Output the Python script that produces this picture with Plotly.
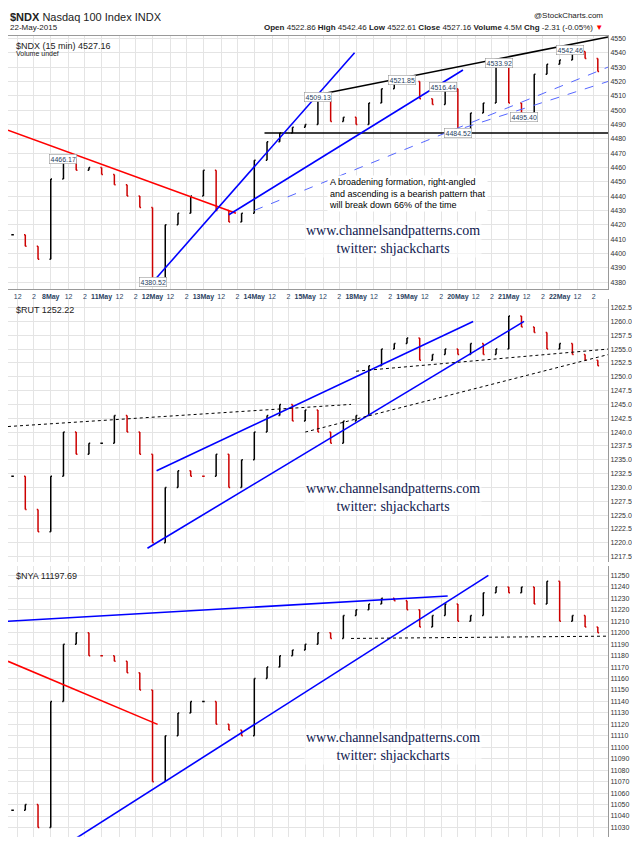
import plotly.graph_objects as go

# day index: 0=7May ... 11=22May, four readings per day
day_labels = ['8May', '11May', '12May', '13May', '14May', '15May', '18May', '19May', '20May', '21May', '22May']
quarters = [0.25, 0.5, 0.75]
times = [0 + q for q in quarters] + [d + q for d in range(1, 12) for q in [0.0] + quarters]

ndx = [4413, 4405, 4396,
       4452, 4466, 4458, 4460,
       4455, 4448, 4440, 4432,
       4382, 4420, 4428, 4440,
       4458, 4430, 4422, 4428,
       4465, 4478, 4484, 4488,
       4490, 4508, 4492, 4495,
       4490, 4505, 4515, 4520,
       4520, 4508, 4504, 4515,
       4485, 4498, 4505, 4532,
       4505, 4498, 4525, 4532,
       4535, 4541, 4536, 4527]
rut = [1232, 1226, 1222,
       1232, 1240, 1236, 1238,
       1238, 1243, 1240, 1236,
       1220, 1230, 1233, 1232,
       1232, 1236, 1230, 1235,
       1240, 1243, 1245, 1242,
       1244, 1240, 1238, 1242,
       1243, 1252, 1255, 1256,
       1257, 1253, 1254, 1255,
       1254, 1256, 1254, 1255,
       1261, 1259, 1258, 1255,
       1256, 1254, 1253, 1252]
nya = [11045, 11050, 11030,
       11140, 11190, 11200, 11180,
       11180, 11175, 11165, 11150,
       11070, 11110, 11130, 11140,
       11140, 11120, 11115, 11110,
       11160, 11170, 11180, 11185,
       11190, 11200, 11195, 11215,
       11220, 11225, 11230, 11228,
       11220, 11205, 11215, 11225,
       11210, 11215, 11235, 11240,
       11235, 11240, 11225, 11245,
       11210, 11215, 11205, 11200]

# trendlines: (x0, y0, x1, y1, colour, dash)
ndx_lines = [(6.0, 4509, 11.95, 4551, 'black', 'solid'),
             (5.2, 4484, 11.95, 4484, 'black', 'solid'),
             (0.16, 4486, 4.64, 4428, 'red', 'solid'),
             (3.08, 4383, 6.97, 4540, 'blue', 'solid'),
             (4.5, 4427, 9.1, 4528, 'blue', 'solid'),
             (5.0, 4430, 11.95, 4530, '#5566ff', 'dash'),
             (8.8, 4484, 11.95, 4520, '#5566ff', 'dash')]
rut_lines = [(3.08, 1233, 9.3, 1260, 'blue', 'solid'),
             (2.9, 1219, 10.3, 1260, 'blue', 'solid'),
             (0.16, 1241, 6.9, 1245, 'black', 'dot'),
             (6.0, 1240, 11.95, 1254, 'black', 'dot'),
             (7.0, 1251, 11.95, 1255, 'black', 'dot')]
nya_lines = [(0.16, 11210, 8.8, 11232, 'blue', 'solid'),
             (1.3, 11015, 9.6, 11250, 'blue', 'solid'),
             (0.16, 11175, 3.1, 11120, 'red', 'solid'),
             (6.9, 11195, 11.95, 11197, 'black', 'dot')]

ndx_marks = [(1.25, 4466, '4466.17'), (3.0, 4380, '4380.52'), (6.25, 4509, '4509.13'),
             (7.9, 4521, '4521.85'), (8.7, 4516, '4516.44'), (9.0, 4484, '4484.52'),
             (9.8, 4533, '4533.92'), (10.3, 4495, '4495.40'), (11.2, 4542, '4542.46')]

rows = [(ndx, 'y', ndx_lines, [4375, 4552], 10),
        (rut, 'y2', rut_lines, [1216.5, 1264], 2.5),
        (nya, 'y3', nya_lines, [11022, 11258], 10)]

fig = go.Figure()
for vals, ax, lines, rng, dt in rows:
    opens = [vals[0]] + vals[:-1]
    fig.add_trace(go.Ohlc(x=times, open=opens, close=vals,
                          high=[max(a, b) for a, b in zip(opens, vals)],
                          low=[min(a, b) for a, b in zip(opens, vals)],
                          yaxis=ax, increasing_line_color='black',
                          decreasing_line_color='#cc0000', tickwidth=0.1,
                          line=dict(width=1.5), showlegend=False))
    for x0, y0, x1, y1, c, dash in lines:
        fig.add_trace(go.Scatter(x=[x0, x1], y=[y0, y1], mode='lines', yaxis=ax,
                                 line=dict(color=c, width=1.6 if dash == 'solid' else 1, dash=dash),
                                 showlegend=False, hoverinfo='skip'))

domains = [[0.664, 0.967], [0.338, 0.652], [0.01, 0.333]]
ranges = [r[3] for r in rows]
dticks = [r[4] for r in rows]
layout_axes = {}
for i, name in enumerate(['yaxis', 'yaxis2', 'yaxis3']):
    layout_axes[name] = dict(domain=domains[i], range=ranges[i], dtick=dticks[i], side='right',
                             showgrid=True, gridcolor='#e4e4e4', tickfont=dict(size=7, color='#333'),
                             showline=True, linecolor='#999', mirror=True, zeroline=False,
                             anchor='x', tickformat='.1f' if i == 1 else 'd')

tickvals, ticktext = [], []
for d in range(12):
    if d > 0:
        tickvals.append(d)
        ticktext.append('<b>' + day_labels[d - 1] + '</b>')
    tickvals += [d + 0.35, d + 0.67]
    ticktext += ['12', '2']

fig.update_layout(
    width=640, height=849, plot_bgcolor='white', paper_bgcolor='white',
    margin=dict(l=0, r=40, t=0, b=12),
    xaxis=dict(range=[0.16, 11.95], tickvals=tickvals, ticktext=ticktext, rangeslider=dict(visible=False),
               tickfont=dict(size=7), tickangle=0, showgrid=True, gridcolor='#e4e4e4', showline=True,
               linecolor='#999', mirror=True),
    font=dict(family='Liberation Sans'),
    **layout_axes)

for x, y, t in ndx_marks:
    fig.add_annotation(x=x, y=y, yref='y', text=t, showarrow=False, font=dict(size=7),
                       bgcolor='white', bordercolor='#888', borderwidth=0.5, borderpad=1)

top = [(0.0, 0.999, '<b>$NDX</b> Nasdaq 100 Index INDX', 11, 'left'),
       (0.0, 0.985, '22-May-2015', 8, 'left'),
       (0.995, 0.999, '@StockCharts.com', 8, 'right'),
       (0.995, 0.985, '<b>Open</b> 4522.86 <b>High</b> 4542.46 <b>Low</b> 4522.61 <b>Close</b> 4527.16 '
                      '<b>Volume</b> 4.5M <b>Chg</b> -2.31 (-0.05%) <span style="color:red">▼</span>', 8, 'right'),
       (0.01, 0.963, '$NDX (15 min) 4527.16', 9, 'left'),
       (0.01, 0.952, 'Volume undef', 7, 'left'),
       (0.01, 0.648, '$RUT 1252.22', 9, 'left'),
       (0.01, 0.330, '$NYA 11197.69', 9, 'left')]
for x, y, t, s, al in top:
    fig.add_annotation(x=x, y=y, xref='paper', yref='paper', text=t, showarrow=False,
                       xanchor=al, yanchor='top', font=dict(size=s, color='#222'))

for y in [0.745, 0.415, 0.095]:
    fig.add_annotation(x=0.79, y=y, xref='paper', yref='paper', showarrow=False,
                       text='www.channelsandpatterns.com<br>twitter: shjackcharts',
                       font=dict(family='Liberation Serif', size=14, color='#102050'),
                       bgcolor='rgba(255,255,255,0.6)')

fig.add_annotation(x=0.8, y=0.80, xref='paper', yref='paper', showarrow=False, align='left',
                   text='A broadening formation, right-angled<br>and ascending is a bearish pattern that<br>will break down 66% of the time',
                   font=dict(size=9, color='black'), bgcolor='white')

fig.write_html('out.html')
